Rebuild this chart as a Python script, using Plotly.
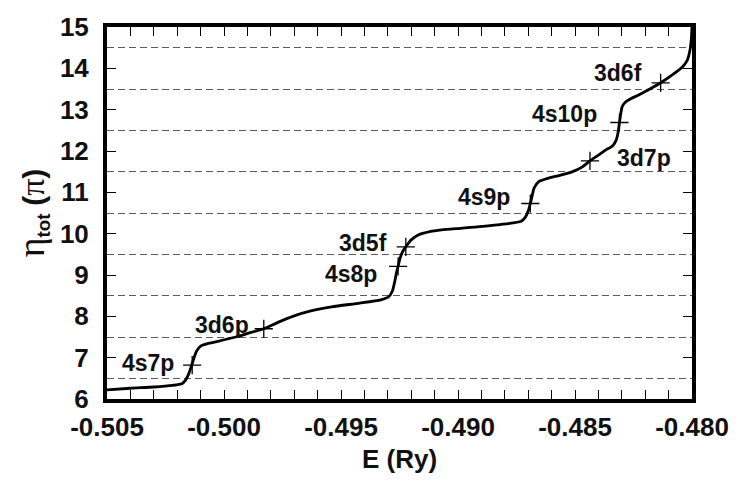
import plotly.graph_objects as go

# Total eigenphase sum vs. energy
energy = [-0.5050, -0.5040, -0.5030, -0.5022, -0.5018, -0.50165, -0.50150, -0.50138, -0.50128,
          -0.50118, -0.50100, -0.50070, -0.50030, -0.49950, -0.49880, -0.49830, -0.49767,
          -0.49700, -0.49629, -0.49540, -0.49420, -0.49330, -0.49295, -0.49280, -0.49270,
          -0.49262, -0.49256, -0.49248, -0.49235, -0.49223, -0.49200, -0.49170, -0.49120,
          -0.49070, -0.48990, -0.48930, -0.48820, -0.48730, -0.48712, -0.48700, -0.48691,
          -0.48683, -0.48675, -0.48655, -0.48610, -0.48565, -0.48510, -0.48470, -0.48436,
          -0.48400, -0.48370, -0.48340, -0.48325, -0.48316, -0.48310, -0.48304, -0.48298,
          -0.48285, -0.48260, -0.48230, -0.48180, -0.48134, -0.48080, -0.48040, -0.48020,
          -0.48010, -0.48003, -0.48000]
eta = [6.22, 6.26, 6.29, 6.33, 6.37, 6.45, 6.62, 6.82, 7.00,
       7.15, 7.28, 7.34, 7.39, 7.50, 7.62, 7.70, 7.86,
       8.01, 8.13, 8.23, 8.32, 8.40, 8.48, 8.62, 8.85,
       9.08, 9.21, 9.40, 9.58, 9.68, 9.85, 9.97, 10.05,
       10.09, 10.13, 10.16, 10.22, 10.30, 10.40, 10.55, 10.73,
       10.92, 11.10, 11.26, 11.35, 11.41, 11.50, 11.61, 11.76,
       11.90, 12.02, 12.12, 12.25, 12.45, 12.69, 12.92, 13.08,
       13.18, 13.27, 13.35, 13.50, 13.65, 13.86, 14.04, 14.20,
       14.40, 14.70, 15.00]

# Resonance positions and labels
res_energy = [-0.50136, -0.49830, -0.49256, -0.49223, -0.48691, -0.48436, -0.48310, -0.48134]
res_eta = [6.82, 7.70, 9.21, 9.68, 10.73, 11.76, 12.69, 13.65]
res_label = ["4s7p", "3d6p", "4s8p", "3d5f", "4s9p", "3d7p", "4s10p", "3d6f"]
# label offsets (px) relative to each resonance marker
label_dx = [-16, -13, -19, -17, -18, 25, -20, -17]
label_dy = [2, 4, -8, 4, 6, 3, 8, 10]

x_ticks = [-0.505, -0.500, -0.495, -0.490, -0.485, -0.480]
x_ticktext = ["-0.505", "-0.500", "-0.495", "-0.490", "-0.485", "-0.480"]
y_ticks = [6, 7, 8, 9, 10, 11, 12, 13, 14, 15]
half_levels = [6.5, 7.5, 8.5, 9.5, 10.5, 11.5, 12.5, 13.5, 14.5]

FONT = "Liberation Sans, Arial, Helvetica, sans-serif"
GREEK = "font-family:'Liberation Serif','Times New Roman',serif;font-weight:normal"

fig = go.Figure()
fig.add_trace(go.Scatter(x=energy, y=eta, mode="lines",
                         line=dict(color="black", width=2.8, shape="spline", smoothing=0.6),
                         showlegend=False, hoverinfo="skip"))
fig.add_trace(go.Scatter(x=res_energy, y=res_eta, mode="markers",
                         marker=dict(symbol="cross-thin", size=13, line=dict(color="black", width=1.3)),
                         showlegend=False))

for xe, ye, t, dx, dy in zip(res_energy, res_eta, res_label, label_dx, label_dy):
    fig.add_annotation(x=xe, y=ye, text=t, showarrow=False,
                       xanchor="left" if dx > 0 else "right", yanchor="middle",
                       xshift=dx, yshift=dy,
                       font=dict(family=FONT, size=23, color="#111", weight="bold"))

y_title = (f'<span style="{GREEK};font-size:38px">η</span>'
           f'<sub>tot</sub> '
           f'<span style="font-size:30px">(<span style="{GREEK};font-size:34px">π</span>)</span>')

fig.update_layout(
    width=741, height=485,
    margin=dict(l=107, r=40, t=16, b=86),
    plot_bgcolor="white", paper_bgcolor="white",
    font=dict(family=FONT, color="#111", weight="bold"),
)
fig.update_xaxes(
    range=[-0.505, -0.480], tickvals=x_ticks, ticktext=x_ticktext,
    ticks="inside", ticklen=9, tickwidth=1.3, tickcolor="black",
    minor=dict(dtick=0.001, tick0=-0.505, ticks="inside", ticklen=9, tickwidth=1.3, tickcolor="black"),
    showline=True, linewidth=4, linecolor="black", mirror="ticks",
    showgrid=False, zeroline=False,
    tickfont=dict(family=FONT, size=26, weight="bold"),
    ticklabelstandoff=2,
    title=dict(text="E (Ry)", font=dict(family=FONT, size=26, weight="bold"), standoff=10),
)
fig.update_yaxes(
    range=[6, 15], tickvals=y_ticks,
    ticks="inside", ticklen=9, tickwidth=1.3, tickcolor="black",
    showline=True, linewidth=4, linecolor="black", mirror="ticks",
    showgrid=False, zeroline=False,
    minor=dict(tickvals=half_levels, ticks="", showgrid=True, gridcolor="#5a5a5a",
               gridwidth=1, griddash="7px,4px"),
    tickfont=dict(family=FONT, size=26, weight="bold"),
    ticklabelstandoff=9,
    title=dict(text=y_title, font=dict(family=FONT, size=27, weight="bold"), standoff=8),
)

fig.write_html("out.html")
